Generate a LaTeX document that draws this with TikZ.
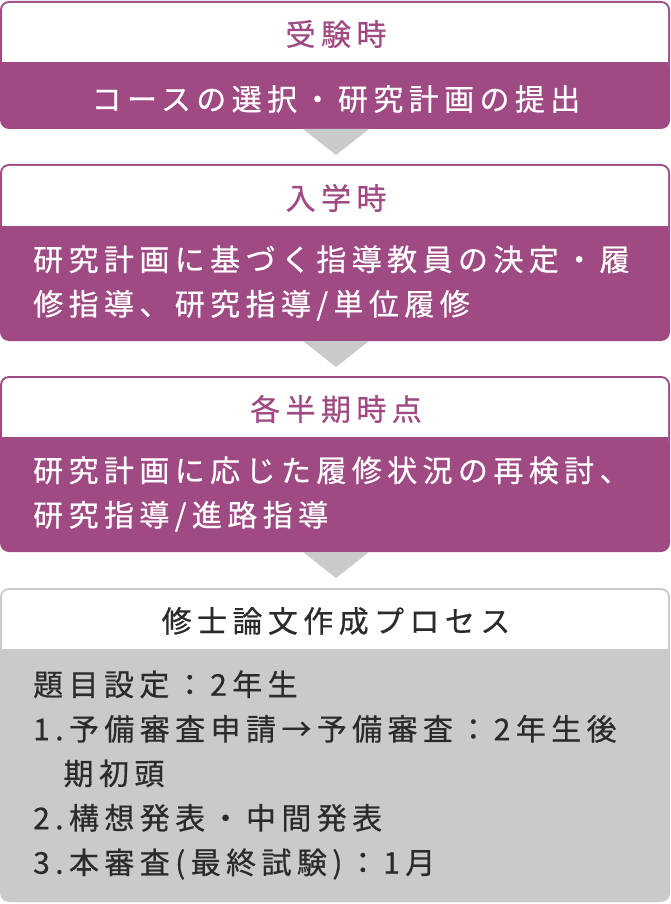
\documentclass[tikz,border=0pt]{standalone}
\usepackage{fontspec}
\setmainfont{Noto Sans CJK JP}[LetterSpace=18, FakeBold=0.6]
\definecolor{plum}{HTML}{9F4A82}
\definecolor{boxgray}{HTML}{C9CACA}
\definecolor{ink}{HTML}{2B2B2B}
\begin{document}
\begin{tikzpicture}[x=1pt,y=-1pt,
    title/.style={font=\fontsize{30}{44.5}\selectfont, inner sep=0pt},
    lines/.style={title, align=left, anchor=west}]
  \useasboundingbox (0,0) rectangle (670,904);
  % purple boxes: top / header bottom / bottom
  \foreach \t/\m/\b in {2/62/128, 165/226/340, 377/437/551}{
    \fill[plum, rounded corners=9] (0,\t-1) rectangle (670,\b+1);
    \fill[white, rounded corners=7] (2,\t+1) rectangle (668,\m+12);
    \fill[plum] (2,\m) rectangle (668,\m+14);
  }
  % gray box
  \fill[boxgray, rounded corners=9] (0,588) rectangle (670,902);
  \fill[white, rounded corners=7] (2,590) rectangle (668,660);
  \fill[boxgray] (2,649) rectangle (668,662);
  % arrows between the boxes
  \foreach \y/\n in {129/1, 341/2, 552/3}{
    \coordinate (tip\n) at (336,\y+26);
    \fill[boxgray] (303,\y) -- (369,\y) -- (tip\n) -- cycle;
  }
  \node[title, text=plum] (h1) at (336,34) {受験時};
  \node[title, text=white] (b1) at (336,99) {コースの選択・研究計画の提出};
  \node[title, text=plum] (h2) at (336,198) {入学時};
  \node[lines, text=white] (b2) at (33,283) {研究計画に基づく指導教員の決定・履\\修指導、研究指導/単位履修};
  \node[title, text=plum] (h3) at (336,409) {各半期時点};
  \node[lines, text=white] (b3) at (33,494) {研究計画に応じた履修状況の再検討、\\研究指導/進路指導};
  \node[title, text=ink] (h4) at (336,621) {修士論文作成プロセス};
  \node[lines, text=ink] (b4) at (33,775) {題目設定：2年生\\1.予備審査申請→予備審査：2年生後\\\phantom{1.}期初頭\\2.構想発表・中間発表\\3.本審査(最終試験)：1月};
\end{tikzpicture}
\end{document}
